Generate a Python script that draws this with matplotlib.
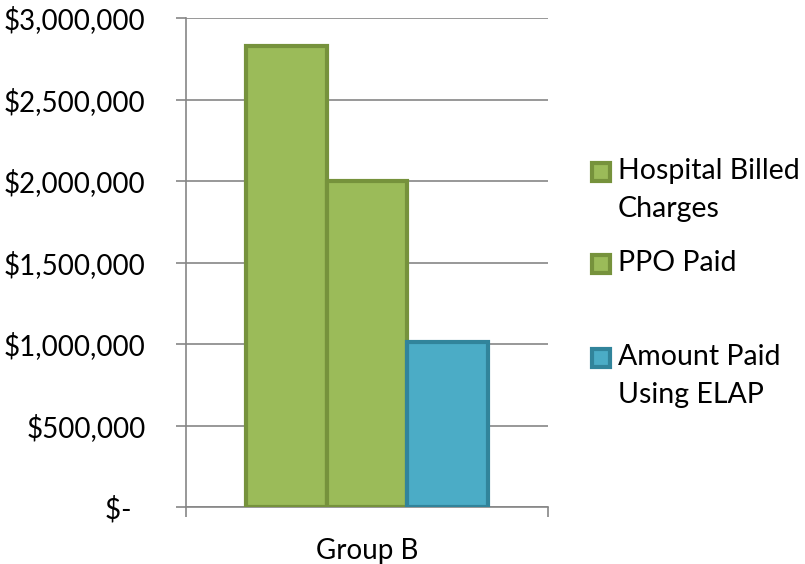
import matplotlib.pyplot as plt
from matplotlib.patches import Rectangle
from matplotlib.ticker import FuncFormatter

plt.rcParams['font.family'] = ['Lato', 'DejaVu Sans']

group = 'Group B'
series = ['Hospital Billed\nCharges', 'PPO Paid', 'Amount Paid\nUsing ELAP']
values = [2830000, 2000000, 1010000]
fills = ['#9BBB59', '#9BBB59', '#4BACC6']
edges = ['#76923C', '#76923C', '#31849B']

W, H = 805, 564
fig = plt.figure(figsize=(W / 100, H / 100), dpi=100)
ax = fig.add_axes([186 / W, 57 / H, 362 / W, 489 / H])

bw = 0.223
offsets = [-bw, 0, bw]
for off, v, fc, ec in zip(offsets, values, fills, edges):
    ax.bar(off, v, width=bw, color=fc, edgecolor=ec, linewidth=3, zorder=3)

grid_c = '#868686'
ax.set_xlim(-0.5, 0.5)
ax.set_ylim(0, 3000000)
ax.set_yticks(range(0, 3000001, 500000))
ax.yaxis.set_major_formatter(FuncFormatter(lambda v, p: '$-  ' if v == 0 else '${:,.0f}'.format(v)))
ax.grid(axis='y', color=grid_c, linewidth=1.2, zorder=0)
ax.tick_params(axis='y', length=7, width=1.2, color=grid_c, pad=22, labelsize=20)

ax.set_xticks([0])
ax.set_xticklabels([group])
ax.set_xticks([-0.5, 0.5], minor=True)
ax.tick_params(axis='x', which='major', length=0, pad=22, labelsize=20)
ax.tick_params(axis='x', which='minor', length=7, width=1.2, color=grid_c)

for s in ['top', 'right']:
    ax.spines[s].set_visible(False)
for s in ['left', 'bottom']:
    ax.spines[s].set_color(grid_c)
    ax.spines[s].set_linewidth(1.2)

# legend drawn by hand to keep the uneven Excel spacing
tops = [161, 253, 347]
for lbl, fc, ec, top in zip(series, fills, edges, tops):
    fig.patches.append(Rectangle((592 / W, 1 - (top + 20) / H), 18 / W, 18 / H,
                                 transform=fig.transFigure, facecolor=fc,
                                 edgecolor=ec, linewidth=3))
    fig.text(618 / W, 1 - (top - 3) / H, lbl, fontsize=20.5, va='top',
             ha='left', linespacing=1.55)

fig.savefig('out.png', dpi=100)
